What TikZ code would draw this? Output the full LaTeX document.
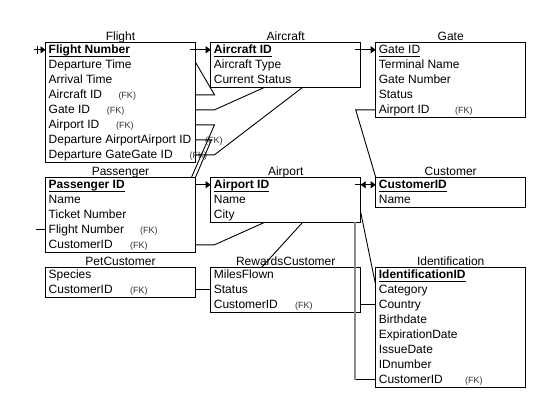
\documentclass[tikz,border=0pt]{standalone}
\usepackage{fontspec}
\setmainfont{Liberation Sans}
\usetikzlibrary{arrows.meta,calc}
\newcommand{\ulx}[1]{\setbox0\hbox{#1}\rlap{\rule[-2.8pt]{\wd0}{0.9pt}}\box0}
\newcommand{\ertable}[5]{%
  \node[tblbox, minimum height=15*#3, anchor=north west] (#1) at #2 {};
  \node[ttl] (#1-t) at ($(#1.north)+(0,-2.3)$) {#4};
  \foreach \rowt [count=\i] in {#5} {\node[rowtxt] (#1-\i) at ($(#1.north west)+(3,15*\i-7.5)$) {\rowt};}%
}
\begin{document}
\begin{tikzpicture}[x=1pt,y=-1pt,
  tblbox/.style={draw, line width=0.9pt, minimum width=150, inner sep=0, outer sep=0, fill=white},
  ttl/.style={anchor=base, inner sep=0, font=\fontsize{12}{14}\selectfont},
  rowtxt/.style={anchor=west, inner sep=0, text height=9.8pt, text depth=2.2pt, font=\fontsize{12}{14}\selectfont},
  fk/.style={anchor=west, inner sep=0, text height=9.8pt, text depth=2.2pt, font=\fontsize{9}{10}\selectfont, text=black!80},
  conn/.style={draw, line width=0.9pt},
  arr/.style={-{Triangle[length=5pt,width=7pt]}},
  gline/.style={draw=black!45, line width=1.8pt}]
\fill[white] (0,0) rectangle (551,413);
\useasboundingbox (0,0) rectangle (551,413);

\ertable{flight}{(45.5,42.3)}{8}{Flight}{\ulx{\bfseries Flight Number},Departure Time,Arrival Time,Aircraft ID,Gate ID,Airport ID,Departure AirportAirport ID,Departure GateGate ID}
\ertable{aircraft}{(210.7,42.3)}{3}{Aircraft}{\ulx{\bfseries Aircraft ID},Aircraft Type,Current Status}
\ertable{gate}{(375.7,42.3)}{5}{Gate}{\ulx{Gate ID},Terminal Name,Gate Number,Status,Airport ID}
\ertable{passenger}{(45.5,177.3)}{5}{Passenger}{\ulx{\bfseries Passenger ID},Name,Ticket Number,Flight Number,CustomerID}
\ertable{pet}{(45.5,267.3)}{2}{PetCustomer}{Species,CustomerID}
\ertable{airport}{(210.7,177.3)}{3}{Airport}{\ulx{\bfseries Airport ID},Name,City}
\ertable{rewards}{(210.7,267.3)}{3}{RewardsCustomer}{MilesFlown,Status,CustomerID}
\ertable{customer}{(375.7,177.3)}{2}{Customer}{\ulx{\bfseries CustomerID},Name}
\ertable{ident}{(375.7,267.3)}{8}{Identification}{\ulx{\bfseries IdentificationID},Category,Country,Birthdate,ExpirationDate,IssueDate,IDnumber,CustomerID}

\node[fk] (fk1) at (118.3,0 |- flight-4) {(FK)};
\node[fk] (fk2) at (106.7,0 |- flight-5) {(FK)};
\node[fk] (fk3) at (116,0 |- flight-6) {(FK)};
\node[fk] (fk4) at (205,0 |- flight-7) {(FK)};
\node[fk] (fk5) at (189.5,0 |- flight-8) {(FK)};
\node[fk] (fk6) at (140,0 |- passenger-4) {(FK)};
\node[fk] (fk7) at (130,0 |- passenger-5) {(FK)};
\node[fk] (fk8) at (130,0 |- pet-2) {(FK)};
\node[fk] (fk9) at (455,0 |- gate-5) {(FK)};
\node[fk] (fk10) at (295,0 |- rewards-3) {(FK)};
\node[fk] (fk11) at (465,0 |- ident-8) {(FK)};

% connectors
\coordinate (fl0) at ($(flight.west|-flight-1)+(-12,0)$);
\draw[conn,arr] (fl0) -- (flight.west|-flight-1);
\draw[conn] ($(fl0)+(4,-4)$) -- ($(fl0)+(4,4)$);
\draw[conn] (passenger.west|-passenger-4) -- ++(-10,0);
\draw[conn,arr] ($(flight.east|-flight-1)+(-6,0)$) -- (aircraft.west|-aircraft-1);
\draw[conn] (flight.east|-flight-4) -- ++(19,0) -- ($(flight.north east)+(0,20)$);
\draw[conn] (flight.east|-flight-5) -- ++(19,0) -- ($(aircraft.south west)+(54,0)$);
\draw[conn] (flight.east|-flight-6) -- ++(19,0) -- ($(passenger.north east)+(-4,0)$);
\draw[conn] (flight.east|-flight-7) -- ++(16,0) -- (passenger.north east);
\draw[conn] (flight.east|-flight-8) -- ++(19,0) -- ($(aircraft.south west)+(92,0)$);
\draw[conn,arr] (passenger.east|-passenger-1) -- (airport.west|-airport-1);
\draw[conn,arr] ($(aircraft.east|-aircraft-1)+(-6,0)$) -- (gate.west|-gate-1);
\draw[conn] (gate.west|-gate-5) -- ++(-20,0) -- (customer.north west);
\draw[conn,arr] ($(airport.east|-airport-1)+(-6,0)$) -- (customer.west|-customer-1);
\draw[conn,arr] ($(airport.east|-airport-1)+(6,0)$) -- (airport.east|-airport-1);
\draw[conn] (passenger.east|-passenger-5) -- ++(19,0) -- ($(airport.south west)+(54,0)$);
\draw[conn] ($(airport.south west)+(92,0)$) -- ($(rewards.north west)+(51,0)$);
\draw[conn] (pet.east|-pet-2) -- (rewards.west|-rewards-2);
\coordinate (g1) at ($(airport.south east)+(-5.5,0)$);
\coordinate (g2) at (g1|-ident-8);
\draw[conn] (g2) -- (ident.west|-ident-8);
\draw[gline] (g1) -- (g2);
\draw[conn] (rewards.east|-rewards-3) -- (ident.west|-ident-3);
\draw[conn] ($(airport.north east)+(0,35)$) -- ($(ident.north west)+(0,18)$);
\end{tikzpicture}
\end{document}
